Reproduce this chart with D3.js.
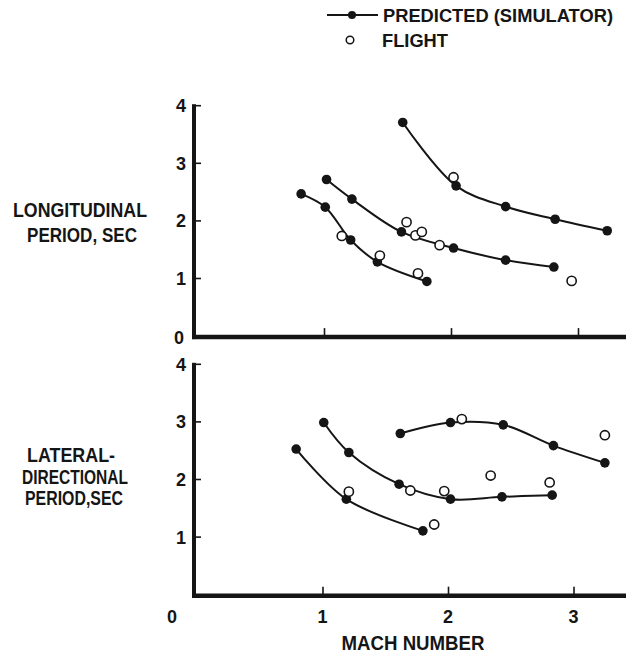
<!DOCTYPE html>
<html><head><meta charset="utf-8">
<script src="https://cdn.jsdelivr.net/npm/d3@7"></script>
<style>
body{margin:0;background:#fff}
svg{display:block}
text{font-family:"Liberation Sans Narrow","Arial Narrow","Liberation Sans",Arial,sans-serif;fill:#151515;font-weight:bold}
</style>
</head><body>
<svg id="c" width="626" height="657"></svg>
<script>
// ---- data ----
const machTicks = [1, 2, 3];
const periodTicks = [1, 2, 3, 4];
const machLabels = ["0", "1", "2", "3"];

// Longitudinal period (sec) vs Mach, predicted (simulator) curves
const longPredA = [[0.82, 2.46], [1.01, 2.23], [1.21, 1.66], [1.42, 1.28], [1.81, 0.94]];
const longPredB = [[1.02, 2.71], [1.22, 2.37], [1.61, 1.80], [2.02, 1.52], [2.43, 1.31], [2.81, 1.19]];
const longPredC = [[1.62, 3.70], [2.04, 2.60], [2.43, 2.24], [2.82, 2.02], [3.23, 1.82]];
// Longitudinal flight points
const longFlight = [[1.14, 1.73], [1.44, 1.39], [1.74, 1.08], [1.65, 1.97], [1.72, 1.74], [1.77, 1.80], [1.91, 1.57], [2.95, 0.95], [2.02, 2.75]];

// Lateral-directional period (sec) vs Mach, predicted curves
const latPredD = [[0.79, 2.52], [1.19, 1.65], [1.80, 1.10]];
const latPredE = [[1.01, 2.98], [1.21, 2.46], [1.61, 1.91], [2.02, 1.65], [2.43, 1.69], [2.83, 1.72]];
const latPredF = [[1.62, 2.79], [2.02, 2.98], [2.44, 2.94], [2.84, 2.58], [3.25, 2.28]];
// Lateral-directional flight points
const latFlight = [[1.21, 1.78], [1.89, 1.21], [1.70, 1.80], [1.97, 1.79], [2.34, 2.06], [2.81, 1.94], [2.11, 3.04], [3.25, 2.76]];

const legendLabels = ["PREDICTED (SIMULATOR)", "FLIGHT"];

// ---- drawing ----
const svg = d3.select("#c");
const ink = "#151515";

const panels = [
  { x: d3.scaleLinear().domain([0, 3]).range([197, 578]),
    y: d3.scaleLinear().domain([0, 4]).range([335.6, 105.2]),
    pred: [longPredA, longPredB, longPredC], flight: longFlight,
    title: [["LONGITUDINAL", 80, 217, 134], ["PERIOD, SEC", 82, 242, 110]], xLabels: false },
  { x: d3.scaleLinear().domain([0, 3]).range([197, 573.5]),
    y: d3.scaleLinear().domain([0, 4]).range([594.2, 363.8]),
    pred: [latPredD, latPredE, latPredF], flight: latFlight,
    title: [["LATERAL-", 71, 462, 88], ["DIRECTIONAL", 75, 484, 106], ["PERIOD,SEC", 74, 505, 98]], xLabels: true }
];

const axisX = 194;
panels.forEach(p => {
  const g = svg.append("g");
  const y0 = p.y(0) + 1.5;
  // y axis
  const ya = d3.axisLeft(p.y).tickValues(periodTicks).tickSizeInner(-7).tickSizeOuter(0).tickFormat(d3.format("d"));
  const yg = g.append("g").attr("transform", `translate(${axisX},0)`).call(ya);
  yg.select(".domain").remove();
  yg.selectAll(".tick line").attr("stroke", ink).attr("stroke-width", 1.6);
  yg.selectAll(".tick text").attr("x", -13).attr("text-anchor", "middle").attr("dy", "0.36em")
    .style("font-size", "18px").style("font-family", null).attr("fill", ink);
  g.append("line").attr("x1", axisX).attr("x2", axisX).attr("y1", p.y(4) - 1).attr("y2", y0 + 2)
    .attr("stroke", ink).attr("stroke-width", 4);
  // x axis
  const xa = d3.axisBottom(p.x).tickValues(machTicks).tickSizeInner(-9).tickSizeOuter(0).tickFormat("");
  const xg = g.append("g").attr("transform", `translate(0,${y0})`).call(xa);
  xg.select(".domain").remove();
  xg.selectAll(".tick line").attr("stroke", ink).attr("stroke-width", 1.6);
  g.append("line").attr("x1", axisX - 2).attr("x2", 626).attr("y1", y0).attr("y2", y0)
    .attr("stroke", ink).attr("stroke-width", 4.5);
  // zero label
  if (!p.xLabels) {
    g.append("text").attr("x", 179).attr("y", y0).attr("dy", "0.36em").attr("text-anchor", "middle")
      .style("font-size", "18px").text("0");
  } else {
    const lx = [172, p.x(1), p.x(2), p.x(3)];
    machLabels.forEach((t, i) => {
      g.append("text").attr("x", lx[i]).attr("y", 623).attr("text-anchor", "middle")
        .style("font-size", "18px").text(t);
    });
    g.append("text").attr("x", 413).attr("y", 650).attr("text-anchor", "middle")
      .attr("textLength", 143).attr("lengthAdjust", "spacingAndGlyphs")
      .style("font-size", "20px").text("MACH NUMBER");
  }
  // title
  p.title.forEach(([t, cx, by, w]) => {
    g.append("text").attr("x", cx - w / 2).attr("y", by)
      .attr("textLength", w).attr("lengthAdjust", "spacingAndGlyphs")
      .style("font-size", "20px").text(t);
  });
  // curves
  const line = d3.line().x(d => p.x(d[0])).y(d => p.y(d[1])).curve(d3.curveCatmullRom.alpha(0.5));
  p.pred.forEach(s => {
    g.append("path").attr("d", line(s)).attr("fill", "none").attr("stroke", ink).attr("stroke-width", 2);
    g.selectAll(null).data(s).enter().append("circle")
      .attr("cx", d => p.x(d[0])).attr("cy", d => p.y(d[1])).attr("r", 4.8).attr("fill", ink);
  });
  g.selectAll(null).data(p.flight).enter().append("circle")
    .attr("cx", d => p.x(d[0])).attr("cy", d => p.y(d[1])).attr("r", 4.6)
    .attr("fill", "#fff").attr("stroke", ink).attr("stroke-width", 1.6);
});

// legend
const lg = svg.append("g");
lg.append("line").attr("x1", 327).attr("x2", 378).attr("y1", 15).attr("y2", 15).attr("stroke", ink).attr("stroke-width", 2);
lg.append("circle").attr("cx", 352).attr("cy", 15).attr("r", 4).attr("fill", ink);
lg.append("text").attr("x", 383).attr("y", 22).attr("textLength", 230).attr("lengthAdjust", "spacingAndGlyphs")
  .style("font-size", "19px").text(legendLabels[0]);
lg.append("circle").attr("cx", 350).attr("cy", 40).attr("r", 3.8).attr("fill", "#fff").attr("stroke", ink).attr("stroke-width", 1.5);
lg.append("text").attr("x", 382).attr("y", 47).attr("textLength", 66).attr("lengthAdjust", "spacingAndGlyphs")
  .style("font-size", "19px").text(legendLabels[1]);
</script>
</body></html>
